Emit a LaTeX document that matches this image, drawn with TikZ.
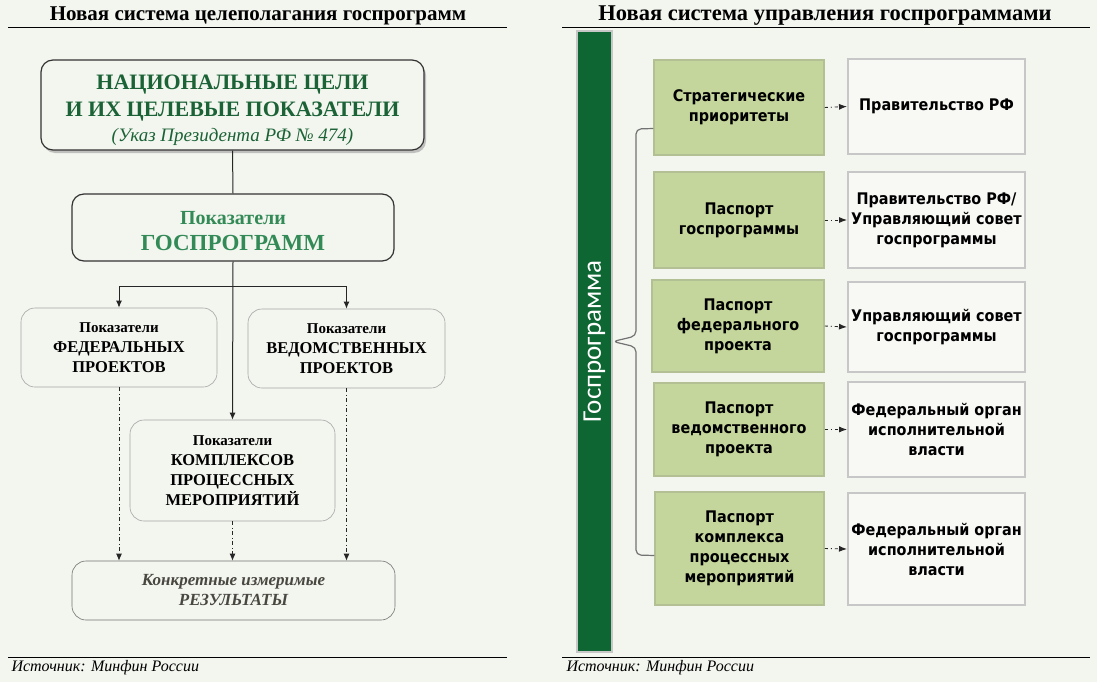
\documentclass[tikz,border=0pt]{standalone}
\usepackage{fontspec}
\setmainfont{Liberation Serif}
\newfontfamily\cardfont{DejaVu Sans Condensed}
\newfontfamily\barfont{Carlito}
\usetikzlibrary{arrows.meta,shadows}

\definecolor{bgpaper}{RGB}{243,245,239}
\definecolor{bargreen}{RGB}{14,102,51}
\definecolor{cardgreen}{RGB}{196,214,155}
\definecolor{goalgreen}{RGB}{27,99,54}
\definecolor{gpgreen}{RGB}{50,138,86}
\definecolor{resgray}{RGB}{72,72,64}

\tikzset{
  goalbox/.style={draw=black!80, line width=1.2pt, rounded corners=12pt, fill=bgpaper, align=center, inner sep=2pt},
  subbox/.style={draw=black!35, line width=0.6pt, rounded corners=14pt, fill=bgpaper, align=center, inner sep=2pt,
    font=\fontsize{16.5}{20}\selectfont\bfseries},
  greencard/.style={draw=cardgreen!75!gray, line width=1.5pt, fill=cardgreen, align=center, inner sep=2pt,
    font=\cardfont\fontsize{16}{20}\selectfont\bfseries},
  whitecard/.style={draw=black!22, line width=2pt, fill=bgpaper!60!white, align=center, inner sep=2pt,
    font=\cardfont\fontsize{16}{20}\selectfont\bfseries},
  solidarr/.style={draw=black!85, line width=1pt, -{Latex[length=7pt,width=6pt]}},
  dasharr/.style={draw=black!85, line width=0.9pt, dash pattern=on 4pt off 2.5pt on 1pt off 2.5pt, -{Latex[length=7pt,width=6pt]}},
  dotarr/.style={draw=black!85, line width=0.9pt, dash pattern=on 3pt off 3pt on 1pt off 3pt, -{Latex[length=8pt,width=6pt]}},
  headline/.style={font=\fontsize{21}{24}\selectfont\bfseries},
  srcline/.style={font=\fontsize{16}{19}\selectfont\itshape, anchor=west}
}

\begin{document}
\begin{tikzpicture}[x=1pt,y=-1pt]
\useasboundingbox (0,0) rectangle (1097,682);
\fill[bgpaper] (0,0) rectangle (1097,682);

% left: goals
\node[headline] (lhead) at (258,16) {Новая система целеполагания госпрограмм};
\draw[line width=1pt] (8,28) -- (507,28);

\node[goalbox, minimum width=383pt, minimum height=90pt, text=goalgreen, font=\fontsize{22}{27}\selectfont\bfseries,
  drop shadow={shadow xshift=2pt, shadow yshift=-3pt, fill=black!45}] (nat) at (232.5,105)
  {\rule{0pt}{26pt}НАЦИОНАЛЬНЫЕ ЦЕЛИ\\И ИХ ЦЕЛЕВЫЕ ПОКАЗАТЕЛИ\\[-2pt]{\mdseries\itshape\fontsize{19}{24}\selectfont (Указ Президента РФ № 474)}};
\node[goalbox, minimum width=322pt, minimum height=67pt, text=gpgreen, font=\fontsize{23}{26}\selectfont\bfseries] (gp) at (233,227.5)
  {\rule{0pt}{20pt}{\fontsize{20}{24}\selectfont Показатели}\\ГОСПРОГРАММ};

\node[subbox, minimum width=196pt, minimum height=79pt] (fed) at (119,347.5)
  {{\fontsize{15}{20}\selectfont Показатели}\\ФЕДЕРАЛЬНЫХ\\ПРОЕКТОВ};
\node[subbox, minimum width=197pt, minimum height=79pt] (ved) at (346.5,348.5)
  {{\fontsize{15}{20}\selectfont Показатели}\\ВЕДОМСТВЕННЫХ\\ПРОЕКТОВ};
\node[subbox, minimum width=205pt, minimum height=101pt] (kpm) at (232.5,470.5)
  {{\fontsize{15}{20}\selectfont Показатели}\\КОМПЛЕКСОВ\\ПРОЦЕССНЫХ\\МЕРОПРИЯТИЙ};
\node[subbox, draw=black!55, minimum width=323pt, minimum height=59pt, font=\fontsize{17}{20}\selectfont\bfseries\itshape, text=resgray] (res) at (233.5,590.5)
  {Конкретные измеримые\\РЕЗУЛЬТАТЫ};

\coordinate (split) at (233,286);
\draw[draw=black!85, line width=1pt] (nat.south) -- (gp.north);
\draw[solidarr] (gp.south) -- (kpm.north);
\draw[solidarr] (split) -| (fed.north);
\draw[solidarr] (split) -| (ved.north);
\draw[dasharr] (fed.south) -- (fed.south |- res.north);
\draw[dasharr] (kpm.south) -- (kpm.south |- res.north);
\draw[dasharr] (ved.south) -- (ved.south |- res.north);

\draw[line width=1pt] (8,657) -- (507,657);
\node[srcline] (lsrc) at (8,668) {Источник: Минфин России};

% right: management
\node[headline, font=\fontsize{22.5}{26}\selectfont\bfseries] (rhead) at (825,16) {Новая система управления госпрограммами};
\draw[line width=1pt] (562,28) -- (1090,28);

\node[fill=bargreen, draw=black!22, line width=1.5pt, rotate=90, minimum width=621pt, minimum height=35pt, inner sep=0pt,
  text=white, font=\barfont\fontsize{27}{30}\selectfont] (bar) at (594.5,341.5) {Госпрограмма};

\node[greencard, minimum width=170pt, minimum height=95pt] (g1) at (739,107.5) {Стратегические\\приоритеты};
\node[greencard, minimum width=170pt, minimum height=96pt] (g2) at (739,220) {Паспорт\\госпрограммы};
\node[greencard, minimum width=172pt, minimum height=92pt] (g3) at (738,326) {Паспорт\\федерального\\проекта};
\node[greencard, minimum width=170pt, minimum height=93pt] (g4) at (739,429.5) {Паспорт\\ведомственного\\проекта};
\node[greencard, minimum width=169pt, minimum height=113pt] (g5) at (739.5,548.5) {Паспорт\\комплекса\\процессных\\мероприятий};

\node[whitecard, minimum width=177pt, minimum height=95pt] (w1) at (936.5,106.5) {Правительство РФ};
\node[whitecard, minimum width=177pt, minimum height=96pt] (w2) at (936.5,220) {Правительство РФ/\\Управляющий совет\\госпрограммы};
\node[whitecard, minimum width=177pt, minimum height=90pt] (w3) at (936.5,327) {Управляющий совет\\госпрограммы};
\node[whitecard, minimum width=177pt, minimum height=95pt] (w4) at (936.5,429.5) {Федеральный орган\\исполнительной\\власти};
\node[whitecard, minimum width=177pt, minimum height=112pt] (w5) at (936.5,549) {Федеральный орган\\исполнительной\\власти};

\foreach \k in {1,...,5}
  \draw[dotarr] (g\k.east) -- (w\k.west);

% bracket
\draw[draw=black!55, line width=1.2pt, rounded corners=5pt]
  ([yshift=-21pt]g1.west) -- (636,129) -- (636,336) -- (bar.south) -- (636,347) -- (636,555) -- ([yshift=-7pt]g5.west);

\draw[line width=1pt] (562,657) -- (1090,657);
\node[srcline] (rsrc) at (563,668) {Источник: Минфин России};
\end{tikzpicture}
\end{document}
